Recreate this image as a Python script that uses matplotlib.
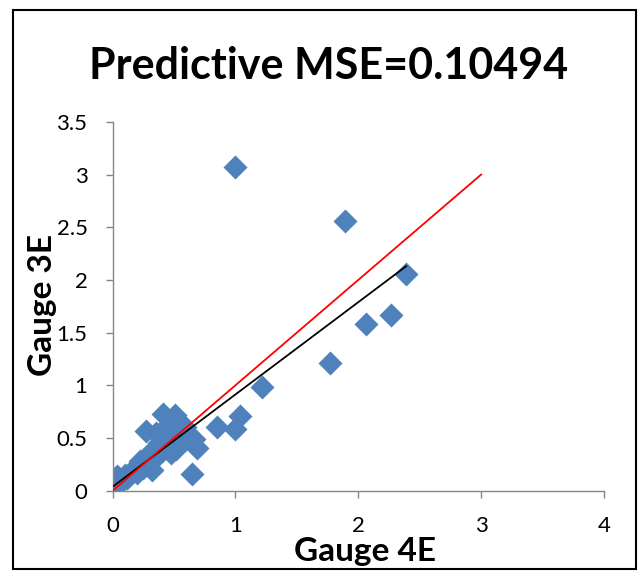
import numpy as np
import matplotlib.pyplot as plt
from matplotlib.patches import Rectangle

# observed (gauge 4E) vs predicted (gauge 3E)
gauge_4e = [0.02, 0.01, 0.04, 0.08, 0.10, 0.12, 0.15, 0.18, 0.20, 0.22,
            0.25, 0.27, 0.28, 0.30, 0.32, 0.33, 0.35, 0.36, 0.38, 0.40,
            0.42, 0.45, 0.47, 0.48, 0.50, 0.52, 0.55, 0.56, 0.58, 0.60,
            0.62, 0.66, 0.69, 0.59, 0.27, 0.41, 0.51, 0.35, 0.45, 0.65,
            0.85, 1.00, 1.04, 1.22, 1.77, 2.06, 2.27, 2.39, 1.89, 1.00]
gauge_3e = [0.03, 0.08, 0.14, 0.10, 0.15, 0.12, 0.18, 0.22, 0.17, 0.28,
            0.22, 0.32, 0.25, 0.35, 0.20, 0.30, 0.40, 0.33, 0.45, 0.38,
            0.50, 0.42, 0.55, 0.36, 0.47, 0.40, 0.52, 0.45, 0.58, 0.50,
            0.51, 0.49, 0.41, 0.60, 0.57, 0.73, 0.72, 0.55, 0.62, 0.16,
            0.60, 0.59, 0.71, 0.98, 1.21, 1.58, 1.67, 2.06, 2.56, 3.07]

# linear trendline y = a*x + b
trend_slope = 0.876
trend_intercept = 0.037
# 1:1 reference line
ref_range = [0, 3]

mse = 0.10494

x_ticks = [0, 1, 2, 3, 4]
y_ticks = [0, 0.5, 1, 1.5, 2, 2.5, 3, 3.5]
y_tick_labels = ['0', '0.5', '1', '1.5', '2', '2.5', '3', '3.5']

plt.rcParams['font.family'] = ['Lato', 'DejaVu Sans']

fig = plt.figure(figsize=(6.4, 5.71), dpi=100)
ax = fig.add_axes([0.1758, 0.1406, 0.768, 0.646])

ax.scatter(gauge_4e, gauge_3e, marker='D', s=150, color='#4F81BD',
           linewidths=0, zorder=2)

xt = np.array([min(gauge_4e), max(gauge_4e)])
ax.plot(xt, trend_slope * xt + trend_intercept, color='black', lw=1.3, zorder=3)
ax.plot(ref_range, ref_range, color='red', lw=1.3, zorder=3)

ax.set_xlim(0, 4)
ax.set_ylim(0, 3.5)
ax.set_xticks(x_ticks)
ax.set_xticklabels([str(t) for t in x_ticks])
ax.set_yticks(y_ticks)
ax.set_yticklabels(y_tick_labels)

for side in ('top', 'right'):
    ax.spines[side].set_visible(False)
for side in ('left', 'bottom'):
    ax.spines[side].set_color('#868686')
    ax.spines[side].set_linewidth(1.0)
ax.tick_params(axis='both', colors='#868686', length=5, width=1.0,
               labelcolor='black', labelsize=16)
ax.tick_params(axis='x', pad=13)
ax.tick_params(axis='y', pad=13)

fig.text(0.513, 0.884, 'Predictive MSE=%.5f' % mse, ha='center', va='center',
         fontsize=31, fontweight='bold')
fig.text(0.570, 0.035, 'Gauge 4E', ha='center', va='center',
         fontsize=24, fontweight='bold')
fig.text(0.066, 0.466, 'Gauge 3E', ha='center', va='center', rotation=90,
         fontsize=24, fontweight='bold')

# frame round the whole chart
fig.patches.append(Rectangle((0.021, 0.004), 0.973, 0.978, transform=fig.transFigure,
                             fill=False, edgecolor='black', lw=1.5))

fig.savefig('out.png', dpi=100)
